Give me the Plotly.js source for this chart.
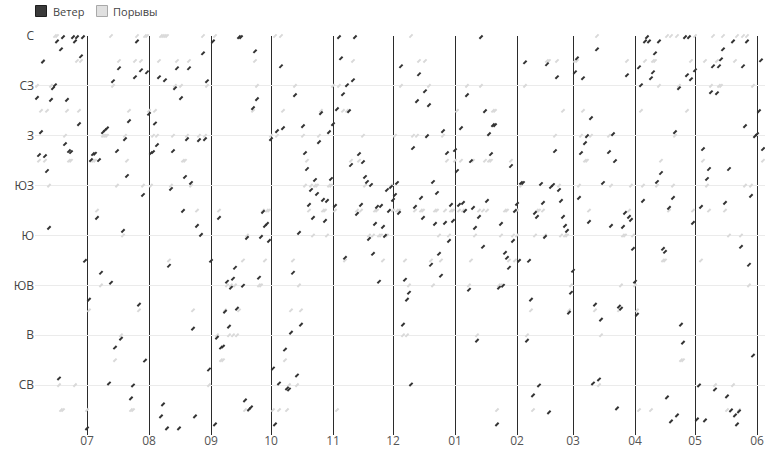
<!DOCTYPE html>
<html>
<head>
<meta charset="utf-8">
<script src="https://cdn.plot.ly/plotly-3.0.1.min.js"></script>
<style>html,body{margin:0;padding:0;background:#fff}#chart{width:765px;height:451px}</style>
</head>
<body>
<div id="chart"></div>
<script>
// Axis categories
var dirTickVals = [360, 315, 270, 225, 180, 135, 90, 45];
var dirTickText = ['С', 'СЗ', 'З', 'ЮЗ', 'Ю', 'ЮВ', 'В', 'СВ'];
var monthTicks = ['2022-07-01','2022-08-01','2022-09-01','2022-10-01','2022-11-01','2022-12-01','2023-01-01','2023-02-01','2023-03-01','2023-04-01','2023-05-01','2023-06-01'];
var monthLabels = ['07','08','09','10','11','12','01','02','03','04','05','06'];
var seriesNames = ['Ветер', 'Порывы'];

// Wind (Ветер): one reading per day, starting at windStart
var windStart = '2022-06-06';
var windDir = [
 304.2,252.6,273.3,336.9,251.7,238.2,186.9,302.4,312.9,315.6,355.2,51,348,359,262.5,302.4,256.2,255.3,359,355.2,359,280.5,341.7,359,157.2,
 6,122.1,248.1,253.5,253.8,195.9,248.1,146.4,273.3,275.1,276.6,46.5,137.4,319.2,78.9,256.2,330.9,87,184.2,267,233.7,283.2,33,44.7,322.8,355.2,117.6,329.1,216.6,67.2,327.3,
 289.8,254.4,255.3,281.1,261.6,322.8,16.8,27.6,320.1,6,152.7,222,256.2,312.9,330.9,6,303.9,202.2,232.8,267,330.9,227.4,96,16.8,188.7,266.1,180.6,344.4,267,319.2,59.1,
 157.2,355.2,9.6,87.9,195.9,78.9,79.8,111.3,138.3,97.8,132.9,141,150.9,114,359,359,134.7,31.2,177.9,23.1,24.9,294.9,346.2,303,141.9,178.8,201.3,188.7,190.5,175.2,
 267,60,9.6,274.2,46.5,332.7,276.9,77.1,42,41.1,92.4,146.4,306.6,53.7,182.4,99.6,278.7,254.4,240,207.6,221.1,195.9,230.1,217.5,264.3,290.4,212.1,193.2,211.2,273.3,231,
 280.5,206.7,294,359,339.9,307.5,159.9,315.6,292.2,243.6,320.1,359,199.5,253.5,207.6,246.3,232.8,228.3,177,225.6,163.5,190.5,205.8,138.3,206.7,187.8,179.7,221.1,202.2,223.8,
 212.1,216.6,227.4,200.4,332.7,99.6,140.1,122.1,128.4,45.6,258.9,205.8,301.2,325.5,213.9,195.9,310.2,269.7,297.6,153.6,228.3,190.5,218.4,163.5,143.7,274.2,191.4,254.4,175.2,207.6,193.2,
 257.1,238.2,207.6,276.9,209.4,202.2,306.6,131.1,247.2,204.9,186.9,85.2,196.8,359,169.8,292.2,211.2,271.5,253.5,279.6,279.6,9.6,132.9,190.5,134.7,164.4,159.9,150.9,242.7,175.2,202.2,
 208.5,157.2,227.4,227.4,336.3,85.2,157.2,122.1,35.7,200.4,196.8,44.7,226.5,209.4,178.8,334.5,20.4,223.8,225.6,256.2,322.8,221.1,211.2,196.8,188.7,184.2,110.4,128.4,
 148.2,327.3,339.9,213.9,254.4,321.9,263.4,269.7,192.3,285.9,46.5,117.6,348,50.1,104.1,227.4,null,null,255.3,188.7,271.5,247.2,24,115.8,114,187.8,200.4,324.6,196.8,194.1,168,
 138.3,108.6,331.8,315.6,211.2,355.2,359,355.2,321.9,327.3,344.4,228.3,355.2,236.4,168,165.3,33.9,204.9,12.3,213.9,273.3,17.7,312.9,99.6,83.4,359,324.6,359,321,191.4,
 329.1,14.1,44.7,205.8,258,13.2,231,240,309.3,332.7,41.1,308.4,332.7,339,348,209.4,34.8,240,22.2,355.2,17.7,9.6,21.3,169.8,332.7,278.7,355.2,153.6,215.7,71.7,269.7,
 271.5,292.2,338.1,258
];

// Gusts (Порывы)
var gustDates = [
 '2022-06-06','2022-06-07','2022-06-08','2022-06-09','2022-06-10','2022-06-11','2022-06-12','2022-06-13','2022-06-15','2022-06-16','2022-06-17','2022-06-18','2022-06-19','2022-06-20','2022-06-21','2022-06-22','2022-06-23','2022-06-25','2022-06-26','2022-06-27','2022-06-28',
 '2022-07-01','2022-07-02','2022-07-03','2022-07-04','2022-07-05','2022-07-06','2022-07-08','2022-07-09','2022-07-10','2022-07-11','2022-07-13','2022-07-14','2022-07-15','2022-07-16','2022-07-17','2022-07-18','2022-07-19','2022-07-20','2022-07-21','2022-07-22','2022-07-23','2022-07-24','2022-07-25','2022-07-26','2022-07-27','2022-07-28','2022-07-29','2022-07-30','2022-07-31',
 '2022-08-01','2022-08-02','2022-08-03','2022-08-04','2022-08-05','2022-08-06','2022-08-07','2022-08-08','2022-08-09','2022-08-10','2022-08-11','2022-08-12','2022-08-13','2022-08-14','2022-08-15','2022-08-17','2022-08-18','2022-08-19','2022-08-20','2022-08-21','2022-08-22','2022-08-23','2022-08-25','2022-08-26','2022-08-28','2022-08-29','2022-08-30','2022-08-31',
 '2022-09-03','2022-09-04','2022-09-05','2022-09-06','2022-09-07','2022-09-08','2022-09-09','2022-09-10','2022-09-11','2022-09-12','2022-09-13','2022-09-14','2022-09-15','2022-09-17','2022-09-18','2022-09-19','2022-09-20','2022-09-22','2022-09-23','2022-09-24','2022-09-25','2022-09-26','2022-09-27','2022-09-28','2022-09-29','2022-09-30',
 '2022-10-01','2022-10-02','2022-10-03','2022-10-04','2022-10-05','2022-10-06','2022-10-07','2022-10-08','2022-10-09','2022-10-10','2022-10-11','2022-10-12','2022-10-13','2022-10-14','2022-10-15','2022-10-16','2022-10-17','2022-10-18','2022-10-19','2022-10-20','2022-10-21','2022-10-22','2022-10-23','2022-10-24','2022-10-25','2022-10-26','2022-10-27','2022-10-28','2022-10-29','2022-10-30','2022-10-31',
 '2022-11-01','2022-11-02','2022-11-03','2022-11-04','2022-11-06','2022-11-07','2022-11-08','2022-11-10','2022-11-11','2022-11-13','2022-11-14','2022-11-15','2022-11-16','2022-11-17','2022-11-19','2022-11-21','2022-11-22','2022-11-23','2022-11-24','2022-11-25','2022-11-26','2022-11-28','2022-11-30',
 '2022-12-01','2022-12-02','2022-12-03','2022-12-04','2022-12-05','2022-12-06','2022-12-07','2022-12-08','2022-12-09','2022-12-10','2022-12-11','2022-12-12','2022-12-13','2022-12-14','2022-12-15','2022-12-16','2022-12-17','2022-12-19','2022-12-20','2022-12-21','2022-12-22','2022-12-23','2022-12-24','2022-12-25','2022-12-26','2022-12-27','2022-12-28','2022-12-29','2022-12-30','2022-12-31',
 '2023-01-01','2023-01-02','2023-01-03','2023-01-04','2023-01-05','2023-01-07','2023-01-08','2023-01-09','2023-01-10','2023-01-11','2023-01-12','2023-01-13','2023-01-14','2023-01-15','2023-01-16','2023-01-17','2023-01-18','2023-01-19','2023-01-20','2023-01-21','2023-01-22','2023-01-23','2023-01-24','2023-01-24','2023-01-26','2023-01-27','2023-01-28','2023-01-29','2023-01-30','2023-01-31',
 '2023-02-01','2023-02-01','2023-02-03','2023-02-05','2023-02-06','2023-02-08','2023-02-09','2023-02-10','2023-02-11','2023-02-12','2023-02-14','2023-02-15','2023-02-16','2023-02-17','2023-02-20','2023-02-21','2023-02-22','2023-02-23','2023-02-24','2023-02-25','2023-02-26','2023-02-27','2023-02-28',
 '2023-03-02','2023-03-03','2023-03-04','2023-03-05','2023-03-06','2023-03-07','2023-03-08','2023-03-09','2023-03-10','2023-03-12','2023-03-13','2023-03-14','2023-03-15','2023-03-19','2023-03-20','2023-03-24','2023-03-25','2023-03-26','2023-03-27','2023-03-28','2023-03-29','2023-03-30','2023-03-31',
 '2023-04-01','2023-04-02','2023-04-03','2023-04-04','2023-04-05','2023-04-06','2023-04-09','2023-04-10','2023-04-11','2023-04-12','2023-04-13','2023-04-14','2023-04-15','2023-04-16','2023-04-17','2023-04-18','2023-04-19','2023-04-20','2023-04-21','2023-04-22','2023-04-23','2023-04-24','2023-04-25','2023-04-27','2023-04-29','2023-04-30',
 '2023-05-01','2023-05-03','2023-05-04','2023-05-05','2023-05-06','2023-05-07','2023-05-08','2023-05-09','2023-05-10','2023-05-11','2023-05-12','2023-05-13','2023-05-14','2023-05-15','2023-05-16','2023-05-17','2023-05-18','2023-05-20','2023-05-21','2023-05-22','2023-05-23','2023-05-24','2023-05-25','2023-05-26','2023-05-27','2023-05-28','2023-05-29','2023-05-30',
 '2023-06-04'
];
var gustDir = [
 315,247.5,292.5,337.5,247.5,292.5,225,315,360,360,45,22.5,22.5,270,292.5,247.5,247.5,45,337.5,292.5,337.5,
 22.5,112.5,247.5,247.5,247.5,202.5,135,270,270,270,360,315,67.5,225,337.5,90,180,270,247.5,292.5,22.5,22.5,337.5,360,112.5,337.5,225,360,360,
 292.5,225,270,292.5,270,337.5,360,360,360,360,157.5,225,270,315,337.5,315,247.5,247.5,270,337.5,225,112.5,202.5,270,360,270,315,45,
 360,90,202.5,67.5,67.5,112.5,135,90,135,90,135,90,112.5,157.5,22.5,180,22.5,292.5,337.5,315,135,135,202.5,157.5,202.5,202.5,
 270,22.5,360,270,22.5,360,292.5,67.5,22.5,45,112.5,157.5,315,45,135,112.5,270,225,247.5,202.5,225,180,225,225,270,292.5,202.5,202.5,180,225,225,
 315,202.5,22.5,315,292.5,157.5,292.5,247.5,337.5,202.5,247.5,202.5,270,225,180,180,202.5,202.5,180,180,157.5,180,225,
 202.5,270,202.5,202.5,315,90,157.5,90,135,360,270,202.5,270,337.5,202.5,202.5,337.5,315,157.5,135,202.5,202.5,180,157.5,270,202.5,247.5,180,202.5,202.5,
 247.5,292.5,202.5,247.5,202.5,315,135,157.5,247.5,180,90,202.5,315,202.5,247.5,202.5,247.5,247.5,292.5,292.5,22.5,135,180,135,202.5,202.5,157.5,247.5,180,157.5,
 202.5,180,225,315,90,112.5,22.5,180,202.5,202.5,202.5,180,337.5,337.5,270,337.5,225,180,292.5,180,180,112.5,135,
 337.5,337.5,225,270,292.5,247.5,247.5,202.5,270,112.5,360,45,90,270,225,112.5,135,180,180,337.5,202.5,225,180,
 135,112.5,22.5,292.5,225,337.5,22.5,337.5,337.5,225,315,247.5,157.5,157.5,360,202.5,360,225,270,360,315,67.5,67.5,292.5,337.5,202.5,
 360,45,157.5,247.5,337.5,225,202.5,315,360,45,337.5,315,315,360,202.5,22.5,180,45,337.5,360,22.5,180,360,225,360,135,225,315,
 247.5
];

// Build daily dates for the wind series
var windDates = [];
(function () {
  var d = new Date(windStart + 'T00:00:00Z');
  for (var i = 0; i < windDir.length; i++) {
    windDates.push(d.toISOString().slice(0, 10));
    d.setUTCDate(d.getUTCDate() + 1);
  }
})();

var darkCol = '#333333';
var lightCol = '#d9d9d9';

var traces = [
  {
    type: 'scatter', mode: 'markers', x: gustDates, y: gustDir, name: seriesNames[1], showlegend: false,
    cliponaxis: false,
    marker: {symbol: 'line-ne', size: 3.2, line: {color: lightCol, width: 2}}
  },
  {
    type: 'scatter', mode: 'markers', x: windDates, y: windDir, name: seriesNames[0], showlegend: false,
    cliponaxis: false,
    marker: {symbol: 'line-ne', size: 3.2, line: {color: darkCol, width: 2}}
  }
];

// Legend drawn as paper-anchored decorations (plot area: left 35px, width 730px, top 36px, height 399px)
var PW = 730, PH = 399, PL = 35, PB = 435;
function px(x) { return (x - PL) / PW; }
function py(y) { return (PB - y) / PH; }

var shapes = [
  {type: 'rect', xref: 'paper', yref: 'paper', x0: px(35.5), x1: px(46.5), y0: py(16.5), y1: py(5.5),
   fillcolor: '#3a3a3a', line: {color: '#1e1e1e', width: 1}},
  {type: 'rect', xref: 'paper', yref: 'paper', x0: px(96.5), x1: px(107.5), y0: py(16.5), y1: py(5.5),
   fillcolor: '#e0e0e0', line: {color: '#a9a9a9', width: 1}}
];
var annotations = [
  {xref: 'paper', yref: 'paper', x: px(51), y: py(11), xanchor: 'left', yanchor: 'middle', showarrow: false,
   text: seriesNames[0], font: {size: 11, color: '#444'}},
  {xref: 'paper', yref: 'paper', x: px(111), y: py(11), xanchor: 'left', yanchor: 'middle', showarrow: false,
   text: seriesNames[1], font: {size: 11, color: '#444'}}
];

var layout = {
  width: 765, height: 451,
  margin: {l: 35, r: 0, t: 36, b: 16, pad: 0},
  paper_bgcolor: '#fff', plot_bgcolor: '#fff',
  font: {family: '"Open Sans", "DejaVu Sans", sans-serif', size: 11, color: '#444'},
  showlegend: false,
  shapes: shapes,
  annotations: annotations,
  xaxis: {
    type: 'date', range: ['2022-06-05', '2023-06-05'],
    tickvals: monthTicks, ticktext: monthLabels,
    showgrid: true, gridcolor: '#2b2b2b', gridwidth: 1,
    zeroline: false, showline: false, ticks: '',
    ticklabelstandoff: -3,
    tickfont: {size: 12, color: '#555'}, fixedrange: true
  },
  yaxis: {
    range: [0, 360], tickvals: dirTickVals, ticktext: dirTickText,
    showgrid: true, gridcolor: '#ebebeb', gridwidth: 1,
    zeroline: false, showline: false, ticks: '',
    tickfont: {size: 12, color: '#444'}, fixedrange: true
  },
  hovermode: false
};

Plotly.newPlot('chart', traces, layout, {displayModeBar: false, staticPlot: true});
</script>
</body>
</html>
